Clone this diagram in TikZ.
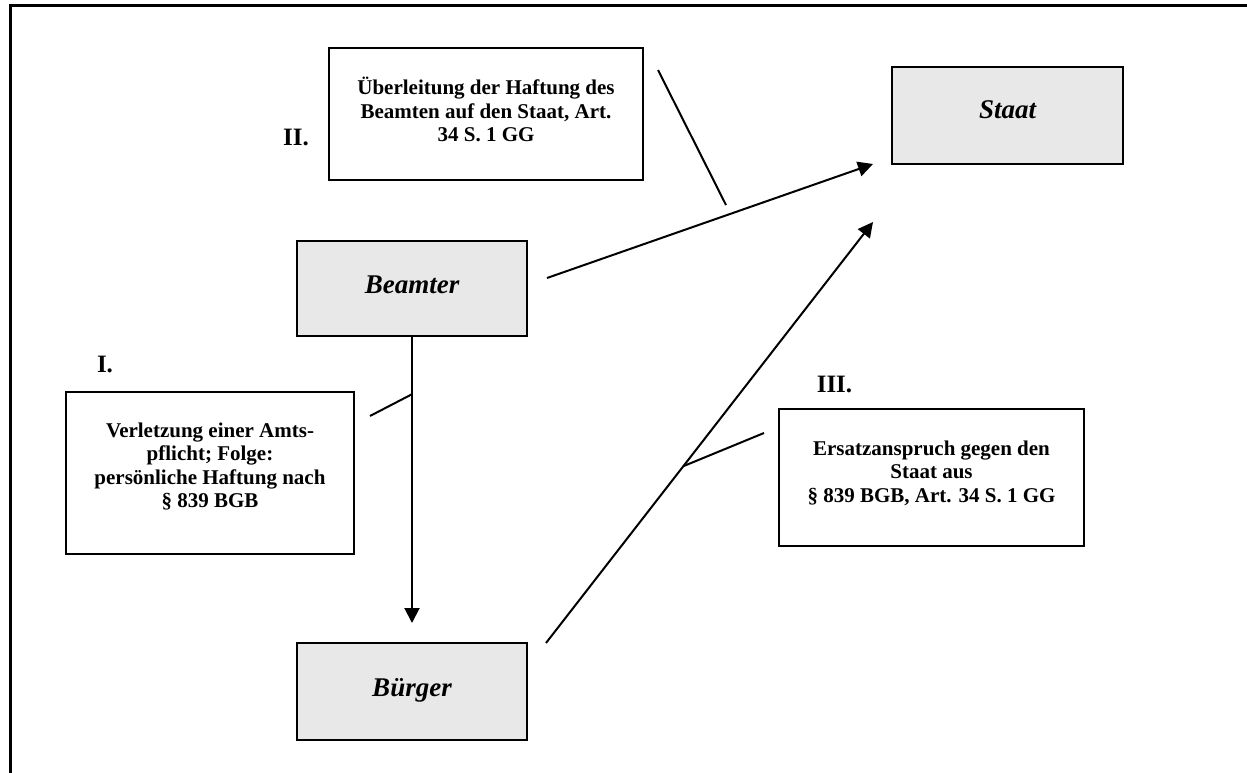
\documentclass[tikz,border=0pt]{standalone}
\usepackage{fontspec}
\setmainfont{Liberation Serif}
\usetikzlibrary{arrows.meta}
\definecolor{boxgray}{RGB}{232,232,232}

\begin{document}
\begin{tikzpicture}[x=1pt,y=-1pt,
  partybox/.style={draw, line width=2pt, fill=boxgray, inner sep=0pt},
  partytext/.style={anchor=base, inner sep=0pt, font=\fontsize{27}{30}\selectfont\bfseries\itshape},
  notebox/.style={draw, line width=2pt, fill=white, inner sep=0pt},
  notetext/.style={align=center, inner sep=0pt, font=\fontsize{21}{23.5}\selectfont\bfseries},
  numtext/.style={anchor=base, inner sep=0pt, font=\fontsize{25}{28}\selectfont\bfseries},
  flow/.style={line width=2pt, -{Triangle[length=15pt,width=15pt]}},
  link/.style={line width=2pt}
]
\useasboundingbox (0,0) rectangle (1247,773);

% outer frame
\draw[line width=3pt, line join=miter] (10.5,773) -- (10.5,6) -- (1247,6);

% parties
\node[partybox, minimum width=230pt, minimum height=95pt] (beamter) at (412,288.5) {};
\node[partytext] (beamterT) at (412,293) {Beamter};
\node[partybox, minimum width=230pt, minimum height=97pt] (buerger) at (412,691.5) {};
\node[partytext] (buergerT) at (412,696) {Bürger};
\node[partybox, minimum width=231pt, minimum height=97pt] (staat) at (1007.5,115.5) {};
\node[partytext] (staatT) at (1007.5,119) {Staat};

% explanatory notes
\node[notebox, minimum width=314pt, minimum height=132pt] (noteII) at (486,114) {};
\node[notetext] (noteIIT) at (486,109.5) {Überleitung der Haftung des\\Beamten auf den Staat, Art.\\34 S. 1 GG};
\node[notebox, minimum width=288pt, minimum height=162pt] (noteI) at (210,473) {};
\node[notetext] (noteIT) at (210,466.5) {Verletzung einer Amts-\\pflicht; Folge:\\persönliche Haftung nach\\§ 839 BGB};
\node[notebox, minimum width=305pt, minimum height=137pt] (noteIII) at (931.5,477.5) {};
\node[notetext] (noteIIIT) at (931.5,473) {Ersatzanspruch gegen den\\Staat aus\\§ 839 BGB, Art. 34 S. 1 GG};

% numbering
\node[numtext] (numI) at (105,372) {I.};
\node[numtext] (numII) at (296,146) {II.};
\node[numtext] (numIII) at (834.5,392) {III.};

% arrow end points
\coordinate (bStart) at (547,278);
\coordinate (bEnd) at (873,164);
\coordinate (cStart) at (546,643);
\coordinate (cEnd) at (873,222);
\coordinate (dEnd) at (412,623);

% relations
\draw[flow] (beamter.south) -- (dEnd) coordinate[pos=0.2] (onI);
\draw[flow] (bStart) -- (bEnd);
\draw[flow] (cStart) -- (cEnd) coordinate[pos=0.42] (onIII);

% pointers from the notes
\coordinate (fromI) at (370,416);
\coordinate (fromII) at (658,70);
\coordinate (toII) at (726,205);
\coordinate (fromIII) at (764,433);
\draw[link] (fromI) -- (onI);
\draw[link] (fromII) -- (toII);
\draw[link] (fromIII) -- (onIII);
\end{tikzpicture}
\end{document}
